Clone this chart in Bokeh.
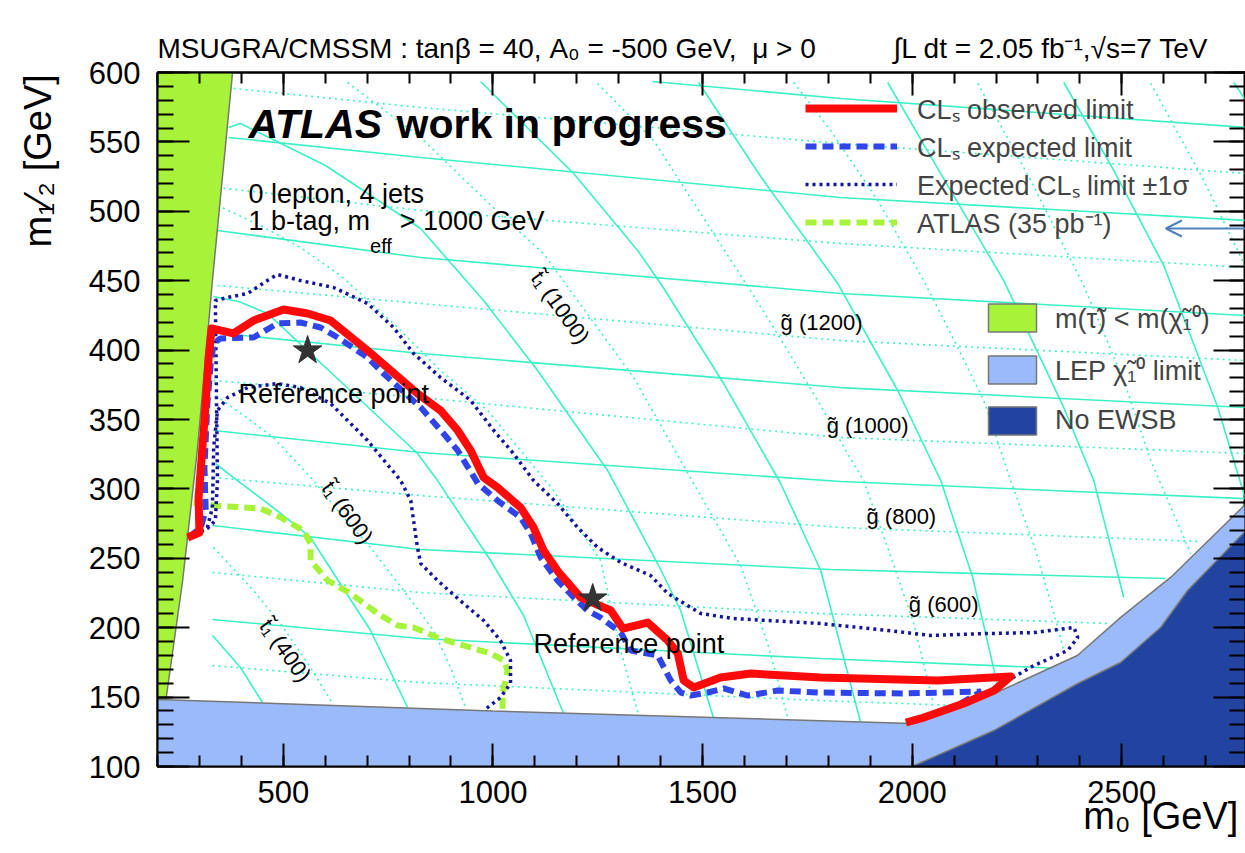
import math
from bokeh.plotting import figure
from bokeh.models import (Range1d, LinearAxis, SingleIntervalTicker, Label,
                          Legend, LegendItem, Arrow, OpenHead, CustomJSTickFormatter)
from bokeh.embed import file_html
from bokeh.resources import INLINE

FONT = "Liberation Sans"
NB = "\u00a0"

# ---------------- axes ----------------
X_START, X_END = 200, 2795
Y_START, Y_END = 100, 600
X_MAJOR, Y_MAJOR = 500, 50
X_TITLE = "m\u2080 [GeV]"
Y_TITLE = "m\u2081\u2044\u2082 [GeV]"
HEADER_LEFT = "MSUGRA/CMSSM : tan\u03b2 = 40, A\u2080 = -500 GeV," + NB * 2 + "\u03bc > 0"
HEADER_RIGHT = "\u222bL dt = 2.05 fb\u207b\u00b9,\u221as=7 TeV"

# ---------------- exclusion contours (m0, m1/2) ----------------
OBS_M0 = [272, 300, 298, 312, 322, 329, 381, 429, 501, 558, 613, 701, 820, 875, 916, 947, 978, 1011,
          1066, 1097, 1121, 1157, 1209, 1281, 1310, 1369, 1417, 1441, 1455, 1479, 1543, 1615, 1782,
          2061, 2235, 2195, 2123, 2021, 1985]
OBS_M12 = [265, 268.6, 293.8, 349.3, 394.7, 415.6, 412, 421.3, 429.2, 426.4, 421.3, 399.7, 368.7,
           356.5, 342.1, 327.7, 308.2, 301, 286.6, 272.2, 255.6, 239.8, 221.8, 212.4, 199.4, 203.7,
           190.8, 181.4, 162, 156.9, 164.1, 167, 164.1, 162, 164.9, 154.7, 145.4, 134.6, 131.7]

EXP_M0 = [274, 303, 315, 312, 319, 327, 334, 350, 429, 486, 541, 589, 630, 701, 739, 828, 882, 916,
          964, 1011, 1066, 1090, 1114, 1154, 1193, 1226, 1257, 1305, 1329, 1393, 1424, 1448, 1472,
          1512, 1550, 1608, 1679, 1782, 1980, 2164, 2099]
EXP_M12 = [265, 272.2, 284.4, 315.4, 361.5, 390.3, 404.7, 408.4, 409.1, 419.2, 419.9, 416.3, 409.1,
           394.7, 383.1, 358.6, 339.9, 327.7, 303.9, 291.6, 279.4, 267.9, 250.6, 234, 221.8, 212.4,
           207.3, 196.5, 183.6, 180, 162, 153.3, 151.1, 153.3, 156.2, 151.1, 154.7, 153.3, 152.6,
           154, 142.5]

P1S_M0 = [274, 319, 338, 343, 338, 367, 415, 462, 486, 541, 620, 701, 763, 811, 875, 947, 1002, 1049,
          1097, 1154, 1202, 1250, 1305, 1376, 1417, 1496, 1574, 1655, 1782, 1942, 2044, 2180, 2290,
          2386, 2395, 2371, 2290, 2228, 2180, 2116]
P1S_M12 = [264.3, 271.5, 277.2, 306, 435.7, 437.9, 440.8, 450.1, 454.5, 450.1, 445.1, 433.6, 416.3,
           397.5, 380.3, 363.7, 342.1, 325.5, 306, 289.5, 272.2, 257.8, 247, 237.6, 224.6, 210.2,
           206.6, 205.2, 203, 198, 194.4, 195.8, 196.5, 200.1, 192.9, 183.6, 172.7, 162, 153.3, 145.4]

M1S_M0 = [274, 319, 331, 334, 343, 367, 415, 486, 541, 613, 701, 780, 804, 820, 828, 868, 930, 978,
          1018, 1042, 1042, 1018, 978]
M1S_M12 = [265, 272.2, 286.6, 329.8, 356.5, 365.8, 373, 375.9, 373, 361.5, 334.9, 306, 291.6, 257.8,
           246.2, 234, 217.4, 205.2, 190.8, 176.4, 159.8, 149.7, 140.3]

ATLAS35_M0 = [286, 334, 446, 494, 548, 565, 565, 606, 661, 725, 773, 811, 868, 930, 995, 1026, 1035,
              1023, 1023]
ATLAS35_M12 = [290.2, 288, 285.9, 279.4, 270, 260.6, 248.4, 234, 224.6, 210.2, 201.6, 200.1, 192.9,
               187.2, 181.4, 176.4, 169.2, 152.6, 140.3]

# ---------------- excluded regions ----------------
STAU_M0 = [200, 379, 331, 295, 260, 221, 214, 200]
STAU_M12 = [600, 600, 450, 328, 234, 150, 140, 140]
LEP_M0 = [200, 1000, 2000, 2195, 2394, 2498, 2617, 2796, 2900, 2900, 200]
LEP_M12 = [148.3, 140, 131, 152.4, 180, 207.6, 236.4, 289.2, 320, 90, 90]
EWSB_M0 = [2000, 2000, 2195, 2394, 2498, 2593, 2657, 2796, 2900, 2900]
EWSB_M12 = [90, 100, 125.9, 159.6, 175.1, 200.3, 226.8, 270, 300, 90]

# ---------------- iso-mass lines ----------------
GLUINO_SOLID_M0 = [[1381, 1829.5, 2796], [369.4, 827.5, 1829.5, 2796], [343.1, 827.5, 1829.5, 2796],
                   [333.6, 827.5, 1829.5, 2796], [333.6, 827.5, 1829.5, 2796],
                   [331.2, 827.5, 1805.6, 2605], [331.2, 827.5, 1781.8, 2330]]
GLUINO_SOLID_M12 = [[593.5, 581.3, 560.4], [553.2, 538.8, 509.9, 493.4], [486.2, 466.7, 440.8, 424.9],
                    [412.7, 397.5, 373.0, 358.6], [342.1, 326.2, 305.3, 293.0],
                    [273.6, 256.3, 241.9, 235.4], [205.9, 192.2, 177.8, 171.0]]
GLUINO_DOT_M0 = [[381.3, 827.5, 1829.5, 2796], [343.1, 827.5, 1829.5, 2796], [343.1, 827.5, 1829.5, 2796],
                 [333.6, 827.5, 1829.5, 2796], [333.6, 827.5, 1829.5, 2688],
                 [331.2, 827.5, 1781.8, 2474], [331.2, 827.5, 1781.8, 2175]]
GLUINO_DOT_M12 = [[588.5, 574.8, 548.8, 527.2], [517.1, 500.6, 476.8, 459.5], [446.5, 433.6, 406.9, 392.5],
                  [378.1, 365.8, 337.0, 325.5], [308.2, 295.2, 272.2, 262.1],
                  [239.8, 225.3, 210.2, 203.0], [172.7, 160.5, 147.5, 143.2]]
SQUARK_SOLID_M0 = [[331.2, 398.0, 450.5],
                   [338.4, 381.3, 500.6, 565.0, 629.4, 708.2, 796.5],
                   [333.6, 393.2, 462.4, 636.6, 820.3, 868.0, 994.5, 1073.2, 1168.6],
                   [369.4, 398.0, 600.8, 827.5, 977.8, 1106.6, 1273.6, 1395.3, 1447.8, 1526.5],
                   [970.6, 1192.5, 1345.2, 1400.1, 1550.4, 1686.4, 1781.8, 1877.2],
                   [1490.7, 1638.6, 1822.3, 1965.5, 2068.1, 2144.4, 2206.5],
                   [1941.6, 2068.1, 2218.4, 2361.5, 2433.1, 2504.7],
                   [2361.5, 2480.8, 2600.1, 2728.9, 2796],
                   [2767.1, 2796]]
SQUARK_SOLID_M12 = [[194.4, 171.3, 146.1],
                    [318.3, 308.2, 280.8, 265.0, 234.7, 198.0, 142.5],
                    [438.6, 435.0, 426.4, 377.4, 325.5, 306.0, 248.4, 208.8, 138.2],
                    [560.4, 563.3, 533.0, 487.6, 435.7, 385.3, 313.2, 244.8, 212.4, 134.6],
                    [593.5, 527.2, 471.8, 448.0, 375.9, 303.9, 241.2, 131.7],
                    [592.8, 525.1, 448.0, 370.9, 306.0, 236.2, 154.7],
                    [592.8, 527.2, 450.1, 358.6, 306.0, 221.8],
                    [592.8, 529.4, 460.9, 358.6, 291.6],
                    [592.8, 579.8]]
STOP_DOT_M0 = [[333.6, 429.0, 493.5, 565.0, 617.5],
               [338.4, 421.9, 476.8, 572.2, 643.8, 708.2, 786.9, 858.5, 899.0, 934.8],
               [343.1, 445.7, 541.2, 636.6, 763.0, 875.2, 987.3, 1066.0, 1144.8, 1256.9, 1304.6, 1347.6],
               [653.3, 827.5, 1025.5, 1120.9, 1202.0, 1335.6, 1478.8, 1590.9, 1655.3, 1703.1],
               [1249.8, 1383.4, 1621.9, 1703.1, 1781.8, 1841.4, 1884.4, 1941.6, 2003.7, 2049.0],
               [1717.4, 1805.6, 1917.8, 2027.5, 2108.6, 2170.7, 2235.1, 2294.7, 2342.4, 2361.5],
               [2156.4, 2282.8, 2409.2, 2504.7, 2569.1, 2664.5],
               [2569.1, 2695.5, 2796]]
STOP_DOT_M12 = [[257.8, 226.8, 203.0, 171.3, 145.4],
                [367.3, 349.3, 337.0, 306.0, 279.4, 257.8, 226.8, 198.0, 171.3, 142.5],
                [504.2, 489.8, 473.9, 453.7, 419.2, 385.3, 356.5, 327.7, 298.8, 248.4, 183.6, 136.7],
                [592.8, 553.2, 495.5, 469.6, 435.7, 380.3, 303.9, 244.8, 188.6, 135.3],
                [592.1, 551.0, 439.3, 399.7, 360.1, 327.7, 306.0, 257.8, 203.0, 147.5],
                [592.8, 558.2, 507.8, 450.1, 401.9, 363.7, 306.0, 255.6, 205.2, 183.6],
                [592.1, 522.2, 446.5, 378.1, 320.4, 253.4],
                [592.1, 522.2, 459.5]]

# ---------------- reference points and labels ----------------
REF_M0 = [558, 1238]
REF_M12 = [399.7, 221.0]
REF_LABEL_M0 = [393, 1097]
REF_LABEL_M12 = [361.5, 181.4]
GLUINO_LABELS = ["g\u0303 (1200)", "g\u0303 (1000)", "g\u0303 (800)", "g\u0303 (600)"]
GLUINO_LABEL_M0 = [1686, 1796, 1891, 1992]
GLUINO_LABEL_M12 = [414.1, 339.9, 274.3, 210.9]
STOP_LABELS = ["t\u0303\u2081 (1000)", "t\u0303\u2081 (600)", "t\u0303\u2081 (400)"]
STOP_LABEL_M0 = [1161, 653, 505]
STOP_LABEL_M12 = [430.7, 283.0, 183.6]

# colours
CYAN = "#3cf0c6"
GREEN = "#a6f33a"
LEPC = "#9bbafa"
EWSBC = "#22439f"
RED = "#ff0a0a"
BLUE = "#2f45ea"
NAVY = "#15159c"

FW, FH = 1088, 694
XPX = (X_END - X_START) / FW
YPX = (Y_END - Y_START) / FH

# header line: left part, gap of non-breaking spaces, right part
HEADER = HEADER_LEFT + NB * 10 + HEADER_RIGHT

p = figure(frame_width=FW, frame_height=FH, title=HEADER,
           x_range=Range1d(X_START, X_END), y_range=Range1d(Y_START, Y_END),
           output_backend="svg", toolbar_location=None,
           x_axis_location=None, y_axis_location=None,
           min_border_left=157, min_border_right=0, min_border_top=72, min_border_bottom=87)
p.grid.visible = False
p.background_fill_color = "white"
p.border_fill_color = "white"
p.outline_line_color = "black"
p.outline_line_width = 2
p.title.align = "left"
p.title.text_font = FONT
p.title.text_font_size = "28px"
p.title.text_font_style = "normal"
p.title.text_color = "black"
p.title.standoff = 17
p.title.offset = 0


def add_axis(loc, interval, tin, tmin, show, standoff=10):
    ax = LinearAxis(ticker=SingleIntervalTicker(interval=interval, num_minor_ticks=5))
    ax.axis_line_width = 2
    ax.axis_line_color = "black"
    ax.major_tick_in = tin
    ax.major_tick_out = 0
    ax.minor_tick_in = tmin
    ax.minor_tick_out = 0
    ax.major_tick_line_width = 2
    ax.minor_tick_line_width = 2
    if show:
        ax.major_label_text_font = FONT
        ax.major_label_text_font_size = "31px"
        ax.major_label_text_color = "black"
        ax.major_label_standoff = standoff
    else:
        ax.formatter = CustomJSTickFormatter(code="return ''")
        ax.major_label_standoff = 0
    p.add_layout(ax, loc)
    return ax


def set_title(ax, label, n_pad, size, standoff):
    """Centred axis title pushed to the far end of the axis by leading non-breaking spaces."""
    ax.axis_label_text_font = FONT
    ax.axis_label_text_font_size = f"{size}px"
    ax.axis_label_text_font_style = "normal"
    ax.axis_label_text_color = "black"
    ax.axis_label_standoff = standoff
    ax.axis_label = NB * n_pad + label


xb = add_axis("below", X_MAJOR, 23, 11, True, 14)
add_axis("above", X_MAJOR, 23, 11, False)
yl = add_axis("left", Y_MAJOR, 32, 16, True, 17)
add_axis("right", Y_MAJOR, 32, 16, False)
set_title(xb, X_TITLE, 87, 38, -11)
set_title(yl, Y_TITLE, 49, 38, 27)

# iso-mass grid
p.multi_line(GLUINO_DOT_M0, GLUINO_DOT_M12, line_color=CYAN, line_width=1.6, line_dash="2 4")
p.multi_line(STOP_DOT_M0, STOP_DOT_M12, line_color=CYAN, line_width=1.6, line_dash="2 4")
p.multi_line(GLUINO_SOLID_M0, GLUINO_SOLID_M12, line_color=CYAN, line_width=1.6)
p.multi_line(SQUARK_SOLID_M0, SQUARK_SOLID_M12, line_color=CYAN, line_width=1.6)

# regions
stau = p.patch(STAU_M0, STAU_M12, fill_color=GREEN, line_color="#777777", line_width=1.5)
lep = p.patch(LEP_M0, LEP_M12, fill_color=LEPC, line_color="#777777", line_width=1.5)
ewsb = p.patch(EWSB_M0, EWSB_M12, fill_color=EWSBC, line_color="#777777", line_width=1.5)

# contours
atl = p.line(ATLAS35_M0, ATLAS35_M12, line_color=GREEN, line_width=6, line_dash="11 6")
p1 = p.line(P1S_M0, P1S_M12, line_color=NAVY, line_width=3.5, line_dash="3 4")
p.line(M1S_M0, M1S_M12, line_color=NAVY, line_width=3.5, line_dash="3 4")
exp = p.line(EXP_M0, EXP_M12, line_color=BLUE, line_width=6, line_dash="11 6")
obs = p.line(OBS_M0, OBS_M12, line_color=RED, line_width=8, line_join="round")

p.scatter(REF_M0, REF_M12, marker="star", size=30, fill_color="#333333", line_color="#333333")

# legends
leg1 = Legend(items=[LegendItem(label="CL\u209b observed limit", renderers=[obs]),
                     LegendItem(label="CL\u209b expected limit", renderers=[exp]),
                     LegendItem(label="Expected CL\u209b limit \u00b11\u03c3", renderers=[p1]),
                     LegendItem(label="ATLAS (35 pb\u207b\u00b9)", renderers=[atl])],
              location=(648, 525), glyph_width=92, glyph_height=38, spacing=0,
              label_standoff=20, padding=0, margin=0, border_line_alpha=0,
              background_fill_alpha=0, label_text_font=FONT, label_text_font_size="27px")
p.add_layout(leg1)
leg2 = Legend(items=[LegendItem(label="m(\u03c4\u0303) < m(\u03c7\u0303\u2081\u2070)", renderers=[stau]),
                     LegendItem(label="LEP \u03c7\u0303\u2081\u2070 limit", renderers=[lep]),
                     LegendItem(label="No EWSB", renderers=[ewsb])],
              location=(825, 328), glyph_width=60, glyph_height=35, spacing=15,
              label_standoff=13, padding=0, margin=0, border_line_alpha=0,
              background_fill_alpha=0, label_text_font=FONT, label_text_font_size="27px")
p.add_layout(leg2)

p.add_layout(Arrow(end=OpenHead(size=16, line_color="#4f81bd", line_width=2),
                   x_start=2796, y_start=487.6, x_end=2605, y_end=487.6,
                   line_color="#4f81bd", line_width=2))

# ------------- text helpers -------------
REG = {' ': .278, '(': .333, ')': .333, ',': .278, '-': .333, '.': .278, '/': .278, ':': .278,
       '<': .584, '=': .584, '>': .584, '[': .278, ']': .278, '\u0303': 0.0,
       'A': .667, 'B': .667, 'C': .722, 'D': .722, 'E': .667, 'F': .611, 'G': .778, 'H': .722,
       'I': .278, 'J': .5, 'K': .667, 'L': .556, 'M': .833, 'N': .722, 'O': .778, 'P': .667,
       'Q': .778, 'R': .722, 'S': .667, 'T': .611, 'U': .722, 'V': .667, 'W': .944, 'X': .667,
       'Y': .667, 'Z': .611, 'a': .556, 'b': .556, 'c': .5, 'd': .556, 'e': .556, 'f': .278,
       'g': .556, 'h': .556, 'i': .222, 'j': .222, 'k': .5, 'l': .222, 'm': .833, 'n': .556,
       'o': .556, 'p': .556, 'q': .556, 'r': .333, 's': .5, 't': .278, 'u': .556, 'v': .5,
       'w': .722, 'x': .5, 'y': .5, 'z': .5}
BOLD = {' ': .278, 'A': .722, 'T': .611, 'L': .611, 'S': .667, 'w': .778, 'o': .611, 'r': .389,
        'k': .556, 'i': .278, 'n': .611, 'p': .611, 'g': .611, 'e': .556, 's': .556}


def text_width(s, size, bold=False):
    tbl = BOLD if bold else REG
    return sum(tbl.get(c, 0.556) for c in s) * size


def rich(x, y, parts, size, angle=0.0, font=FONT):
    """Place text pieces along a baseline at data point (x, y); offsets computed in pixels."""
    ca, sa = math.cos(angle), math.sin(angle)
    adv = 0.0
    for txt, rel, shift, style in parts:
        fs = size * rel
        bold = "bold" in style
        lead = len(txt) - len(txt.lstrip(" "))
        adv += text_width(" " * lead, fs, bold)
        txt = txt.lstrip(" ")
        up = shift * size + 0.35 * fs  # anchor at text middle
        dx = adv * ca - up * sa
        dy = adv * sa + up * ca
        p.add_layout(Label(x=x + dx * XPX, y=y + dy * YPX, text=txt, angle=angle,
                           text_font=font, text_font_size=f"{fs:.1f}px", text_font_style=style,
                           text_baseline="middle", text_align="left", text_color="black"))
        adv += text_width(txt, fs, bold)


# in-plot texts
rich(417, 552.4, [("ATLAS", 1, 0, "bold italic"), (" work in progress", 1, 0, "bold")], 41)
rich(417, 505.6, [("0 lepton, 4 jets", 1, 0, "normal")], 27)
rich(417, 486.2, [("1 b-tag, m", 1, 0, "normal"), ("eff", 0.74, -0.85, "normal"),
                  (" > 1000 GeV", 1, 0, "normal")], 27)
for xr, yr in zip(REF_LABEL_M0, REF_LABEL_M12):
    rich(xr, yr, [("Reference point", 1, 0, "normal")], 27)
for t, xg, yg in zip(GLUINO_LABELS, GLUINO_LABEL_M0, GLUINO_LABEL_M12):
    rich(xg, yg, [(t, 1, 0, "normal")], 22)
for t, xs, ys in zip(STOP_LABELS, STOP_LABEL_M0, STOP_LABEL_M12):
    p.add_layout(Label(x=xs, y=ys, text=t, text_font=FONT, text_font_size="22px", angle=-0.95,
                       text_align="center", text_baseline="middle", text_color="black"))

open("out.html", "w").write(file_html(p, INLINE))
